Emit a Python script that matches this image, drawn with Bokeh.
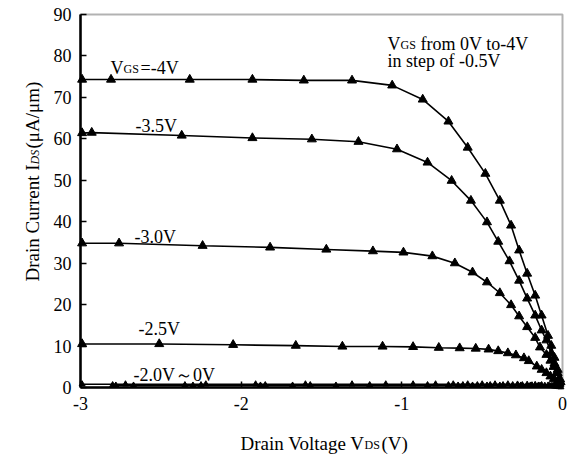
import math
from bokeh.plotting import figure
from bokeh.models import Range1d, FixedTicker, Label, BoxAnnotation
from bokeh.embed import file_html
from bokeh.resources import INLINE

# ---------------- data ----------------
vds_m40 = [-2.99, -2.81, -2.32, -1.93, -1.61, -1.31, -1.06, -0.87, -0.71, -0.59, -0.48,
           -0.39, -0.32, -0.27, -0.22, -0.17, -0.13, -0.09, -0.07, -0.05, -0.03, -0.015, 0.0]
ids_m40 = [74.3, 74.3, 74.3, 74.3, 74.1, 74.1, 72.9, 69.5, 64.2, 57.9, 51.6,
           45.1, 39.1, 33.1, 27.5, 22.2, 17.4, 12.5, 10.1, 7.2, 4.3, 2.0, 0.0]

vds_m35 = [-2.99, -2.93, -2.37, -1.93, -1.56, -1.27, -1.03, -0.84, -0.69, -0.57, -0.47,
           -0.40, -0.33, -0.27, -0.22, -0.17, -0.13, -0.10, -0.07, -0.05, -0.03, -0.012, 0.0]
ids_m35 = [61.4, 61.5, 60.8, 60.2, 59.9, 59.3, 57.5, 54.3, 49.9, 45.1, 39.9,
           35.2, 30.5, 25.8, 21.5, 17.4, 13.8, 11.4, 8.3, 5.8, 3.5, 1.3, 0.0]

vds_m30 = [-2.99, -2.76, -2.24, -1.82, -1.47, -1.18, -0.99, -0.81, -0.67, -0.56, -0.47,
           -0.39, -0.32, -0.27, -0.22, -0.17, -0.14, -0.10, -0.075, -0.056, -0.037, -0.02, 0.0]
ids_m30 = [34.8, 34.8, 34.2, 33.8, 33.3, 32.9, 32.6, 31.7, 30.0, 27.8, 25.4,
           22.8, 19.9, 17.2, 14.6, 12.0, 9.7, 7.9, 6.5, 5.0, 3.5, 1.8, 0.0]

vds_m25 = [-2.99, -2.51, -2.05, -1.66, -1.37, -1.12, -0.93, -0.77, -0.64, -0.54, -0.46,
           -0.40, -0.34, -0.29, -0.24, -0.21, -0.16, -0.13, -0.10, -0.075, -0.054, -0.033, -0.019, 0.0]
ids_m25 = [10.5, 10.5, 10.3, 10.1, 9.9, 9.9, 9.8, 9.6, 9.5, 9.4, 9.2,
           8.8, 8.3, 7.8, 7.1, 6.4, 5.1, 4.3, 3.5, 2.7, 2.1, 1.4, 0.9, 0.0]

vds_m20 = [-2.99, -2.72, -2.22, -1.91, -1.60, -1.31, -1.10, -0.93, -0.79, -0.68, -0.59,
           -0.50, -0.42, -0.34, -0.28, -0.22, -0.17, -0.13, -0.09, -0.06, -0.03, 0.0]
ids_m20 = [0.8, 0.8, 0.8, 0.8, 0.8, 0.8, 0.8, 0.8, 0.8, 0.8, 0.8,
           0.8, 0.8, 0.8, 0.75, 0.7, 0.65, 0.6, 0.5, 0.4, 0.2, 0.0]

vds_m15 = [-2.80, -2.35, -2.25, -1.85, -1.57, -1.20, -0.84, -0.71, -0.62, -0.53, -0.45,
           -0.37, -0.31, -0.25, -0.19, -0.15, -0.11, -0.07, -0.04, -0.02, 0.0]
ids_m15 = [0.6, 0.6, 0.6, 0.6, 0.6, 0.6, 0.6, 0.6, 0.6, 0.6, 0.6,
           0.6, 0.6, 0.6, 0.55, 0.5, 0.45, 0.4, 0.3, 0.15, 0.0]

vds_m10 = [-2.78, -2.67, -2.30, -1.88, -1.68, -1.41, -0.65, -0.56, -0.47, -0.39,
           -0.26, -0.20, -0.14, -0.08, -0.05, -0.01]
ids_m10 = [0.5, 0.5, 0.5, 0.5, 0.5, 0.5, 0.5, 0.5, 0.5, 0.5,
           0.5, 0.5, 0.45, 0.4, 0.3, 0.1]

x_ticks = [-3, -2, -1, 0]
x_tick_labels = ["-3", "-2", "-1", "0"]
y_ticks = [0, 10, 20, 30, 40, 50, 60, 70, 80, 90]
y_tick_labels = ["0", "10", "20", "30", "40", "50", "60", "70", "80", "90"]

curve_labels = ["-3.5V", "-3.0V", "-2.5V", "-2.0V\uff5e0V"]

FONT = "Liberation Serif"

# ---------------- layout geometry (pixels) ----------------
W, H = 571, 456
FL, FR, FT, FB = 80, 562, 14, 387          # plot box edges in the picture
X0, X1, Y0, Y1 = -3.0, 0.0, 0.0, 90.0     # axis limits
xpx = (FR - FL) / (X1 - X0)
ypx = (FB - FT) / (Y1 - Y0)

p = figure(width=W, height=H, output_backend="svg", toolbar_location=None,
           x_range=Range1d(X0 - FL / xpx, X1 + (W - FR) / xpx),
           y_range=Range1d(Y0 - (H - FB) / ypx, Y1 + FT / ypx),
           min_border=0)
p.background_fill_color = "white"
p.border_fill_color = "white"
p.outline_line_color = None
p.grid.visible = False

p.xaxis.fixed_location = Y0
p.yaxis.fixed_location = X0
for ax, ticks, tl, bnd in ((p.xaxis[0], x_ticks, x_tick_labels, (X0, X1)),
                           (p.yaxis[0], y_ticks, y_tick_labels, (Y0, Y1))):
    ax.ticker = FixedTicker(ticks=ticks)
    ax.bounds = bnd
    ax.major_label_overrides = {t: s for t, s in zip(ticks, tl)}
    ax.minor_tick_line_color = None
    ax.major_tick_in = 6
    ax.major_tick_out = 0
    ax.major_tick_line_width = 1.5
    ax.major_tick_line_color = "black"
    ax.axis_line_width = 2.5
    ax.axis_line_color = "black"
    ax.major_label_text_font = FONT
    ax.major_label_text_font_size = "18px"
    ax.major_label_text_color = "black"
p.yaxis[0].major_label_standoff = 9
p.xaxis[0].major_label_standoff = 9

# plot box (top and right edges)
p.add_layout(BoxAnnotation(left=X0, right=X1, bottom=Y0, top=Y1, fill_alpha=0,
                           line_color="black", line_width=2))

series = [(vds_m40, ids_m40, 9), (vds_m35, ids_m35, 9), (vds_m30, ids_m30, 9),
          (vds_m25, ids_m25, 9), (vds_m20, ids_m20, 6), (vds_m15, ids_m15, 6),
          (vds_m10, ids_m10, 6)]
for xs, ys, sz in series:
    p.line(xs, ys, line_color="black", line_width=1.6)
    # the final point sits in the plot corner; its marker is hidden there
    mx = [x for x, y in zip(xs, ys) if not (x == X1 and y == Y0)]
    my = [y for x, y in zip(xs, ys) if not (x == X1 and y == Y0)]
    p.scatter(mx, my, marker="triangle", size=sz, fill_color="black", line_color="black")

def lab(x, y, text, size="18px", xo=0, yo=0, units="data", angle=0.0, style="normal"):
    p.add_layout(Label(x=x, y=y, x_units=units, y_units=units, text=text,
                       x_offset=xo, y_offset=yo, angle=angle,
                       text_font=FONT, text_font_size=size, text_color="black",
                       text_font_style=style,
                       text_baseline="alphabetic", text_align="left"))

# V_GS = -4V
lab(-2.813, 77.2, "V")
lab(-2.813, 77.2, "GS", size="12px", xo=13, yo=-1)
lab(-2.813, 77.2, "=-4V", xo=30)
# curve labels
lab(-2.658, 63.0, curve_labels[0])
lab(-2.664, 36.2, curve_labels[1])
lab(-2.639, 14.0, curve_labels[2])
lab(-2.670, 2.9, curve_labels[3])
# note
lab(-1.089, 83.0, "V")
lab(-1.089, 83.0, "GS", size="12px", xo=13, yo=-1)
lab(-1.089, 83.0, "from 0V to-4V", xo=33)
lab(-1.089, 78.9, "in step of -0.5V")

# x axis title (screen units: origin at bottom-left of the canvas)
xt_y = H - 443
lab(240, xt_y, "Drain Voltage V", size="19px", units="screen")
lab(240 + 124, xt_y, "DS", size="12px", yo=-1, units="screen")
lab(240 + 141, xt_y, "(V)", size="19px", units="screen")

# y axis title, rotated
a = math.pi / 2
yb = H - 281
lab(32, yb, "Drain Current I", size="19px", units="screen", angle=a)
lab(32, yb + 117, "DS", size="12px", xo=2, units="screen", angle=a, style="italic")
lab(32, yb + 133, "(\u03bcA/\u03bcm)", size="19px", units="screen", angle=a)

open("out.html", "w").write(file_html(p, INLINE))
